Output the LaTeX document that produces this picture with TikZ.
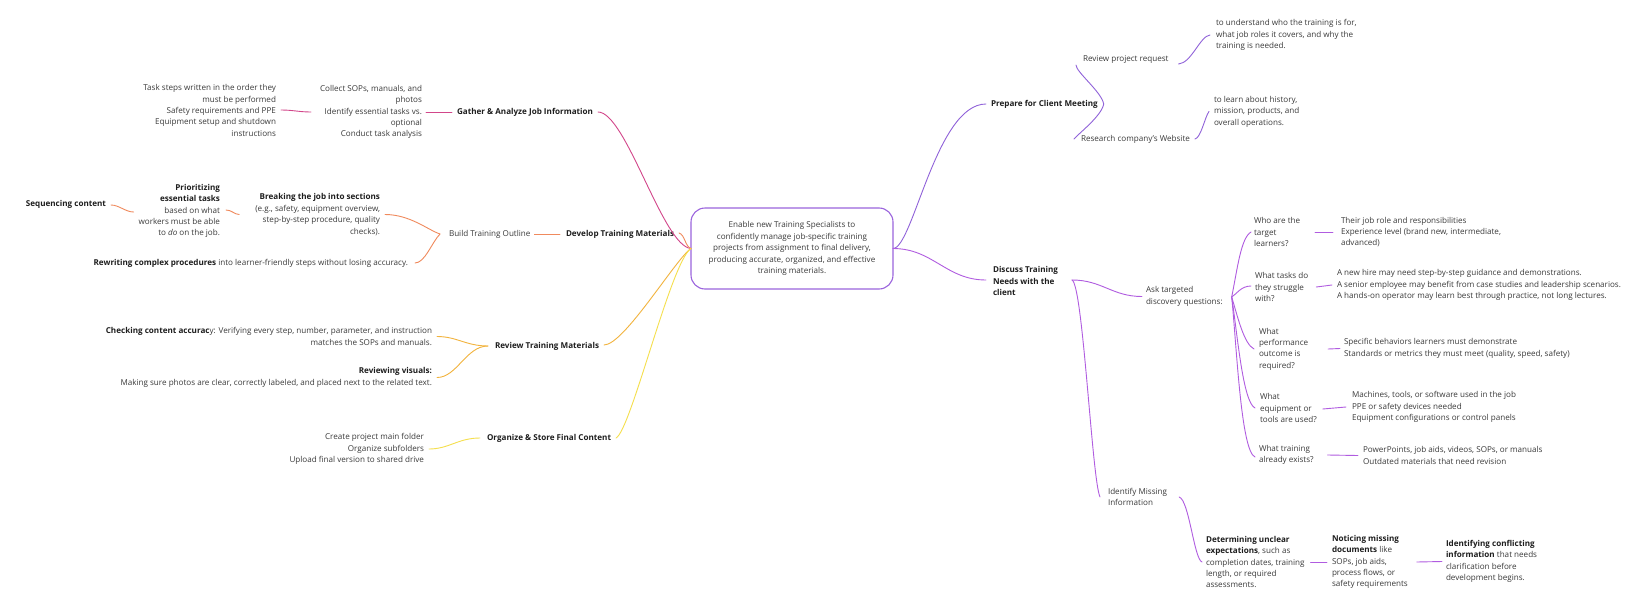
\documentclass[tikz,border=0pt]{standalone}
\usepackage{fontspec}
\setmainfont{Open Sans}
\usetikzlibrary{calc}
\definecolor{txt}{HTML}{3A3A3A}
\definecolor{txtb}{HTML}{1E1E1E}
\definecolor{pinkC}{HTML}{D2468A}
\definecolor{orangeC}{HTML}{F08A5D}
\definecolor{amberC}{HTML}{F2B33D}
\definecolor{yellowC}{HTML}{F5DF4D}
\definecolor{purpA}{HTML}{9062D9}
\definecolor{purpB}{HTML}{B05CE0}
\definecolor{centerC}{HTML}{9B64DD}
\begin{document}
\begin{tikzpicture}[x=1pt,y=-1pt,
  every node/.style={inner sep=0pt, outer sep=0pt, text=txt, font=\fontsize{8.1}{11.4}\selectfont},
  lt/.style={anchor=west, align=left},
  rt/.style={anchor=east, align=right},
  bt/.style={font=\fontsize{8.1}{11.4}\selectfont\bfseries, text=txtb},
  con/.style={line width=0.9pt, line cap=round}]
\useasboundingbox[fill=white] (0,0) rectangle (1642,608);

% ---------- central node
\node[draw=centerC, line width=1.1pt, rounded corners=14pt, minimum width=202pt, minimum height=81pt, align=center] (center) at (792,248.5)
  {Enable new Training Specialists to\\confidently manage job-specific training\\projects from assignment to final delivery,\\producing accurate, organized, and effective\\training materials.};

% ---------- left side nodes
\node[rt] (steps) at (276,110.5) {Task steps written in the order they\\must be performed\\Safety requirements and PPE\\Equipment setup and shutdown\\instructions};
\node[rt] (collect) at (422,112) {Collect SOPs, manuals, and\\photos\\Identify essential tasks vs.\\optional\\Conduct task analysis};
\node[lt,bt] (gather) at (457,112) {Gather \& Analyze Job Information};

\node[rt,bt] (seq) at (106,204) {Sequencing content};
\node[rt] (prior) at (220,211) {\textbf{\color{txtb}Prioritizing}\\\textbf{\color{txtb}essential tasks}\\based on what\\workers must be able\\to \emph{do} on the job.};
\node[rt] (breaking) at (380,214.5) {\textbf{\color{txtb}Breaking the job into sections}\\(e.g., safety, equipment overview,\\step-by-step procedure, quality\\checks).};
\node[lt] (outline) at (449,234) {Build Training Outline};
\node[lt,bt] (develop) at (566,234) {Develop Training Materials};
\node[rt] (rewrite) at (408,263) {\textbf{\color{txtb}Rewriting complex procedures} into learner-friendly steps without losing accuracy.};

\node[rt] (checking) at (432,336.5) {\textbf{\color{txtb}Checking content accurac}y: Verifying every step, number, parameter, and instruction\\matches the SOPs and manuals.};
\node[rt] (visuals) at (432,377.5) {\textbf{\color{txtb}Reviewing visuals:}\\Making sure photos are clear, correctly labeled, and placed next to the related text.};
\node[lt,bt] (review) at (495,346) {Review Training Materials};

\node[rt] (folders) at (424,449) {Create project main folder\\Organize subfolders\\Upload final version to shared drive};
\node[lt,bt] (organize) at (487,438) {Organize \& Store Final Content};

% ---------- right side nodes
\node[lt,bt] (prepare) at (991,104) {Prepare for Client Meeting};
\node[lt] (reviewreq) at (1083,59) {Review project request};
\node[lt] (research) at (1081,139) {Research company's Website};
\node[lt] (understand) at (1216,35) {to understand who the training is for,\\what job roles it covers, and why the\\training is needed.};
\node[lt] (learn) at (1214,111.5) {to learn about history,\\mission, products, and\\overall operations.};

\node[lt,bt] (discuss) at (993,281) {Discuss Training\\Needs with the\\client};
\node[lt] (ask) at (1146,296.5) {Ask targeted\\discovery questions:};
\node[lt] (who) at (1254,232) {Who are the\\target\\learners?};
\node[lt] (tasks) at (1255,287) {What tasks do\\they struggle\\with?};
\node[lt] (perf) at (1259,349) {What\\performance\\outcome is\\required?};
\node[lt] (equip) at (1260,408) {What\\equipment or\\tools are used?};
\node[lt] (exists) at (1259,455) {What training\\already exists?};
\node[lt] (whoA) at (1341,232) {Their job role and responsibilities\\Experience level (brand new, intermediate,\\advanced)};
\node[lt] (tasksA) at (1337,285) {A new hire may need step-by-step guidance and demonstrations.\\A senior employee may benefit from case studies and leadership scenarios.\\A hands-on operator may learn best through practice, not long lectures.};
\node[lt] (perfA) at (1344,348.5) {Specific behaviors learners must demonstrate\\Standards or metrics they must meet (quality, speed, safety)};
\node[lt] (equipA) at (1352,407) {Machines, tools, or software used in the job\\PPE or safety devices needed\\Equipment configurations or control panels};
\node[lt] (existsA) at (1363,455.5) {PowerPoints, job aids, videos, SOPs, or manuals\\Outdated materials that need revision};

\node[lt] (missing) at (1108,497) {Identify Missing\\Information};
\node[lt] (determ) at (1206,562) {\textbf{\color{txtb}Determining unclear}\\\textbf{\color{txtb}expectations}, such as\\completion dates, training\\length, or required\\assessments.};
\node[lt] (notice) at (1332,562) {\textbf{\color{txtb}Noticing missing}\\\textbf{\color{txtb}documents} like\\SOPs, job aids,\\process flows, or\\safety requirements};
\node[lt] (conflict) at (1446,561.5) {\textbf{\color{txtb}Identifying conflicting}\\\textbf{\color{txtb}information} that needs\\clarification before\\development begins.};

% ---------- connectors: Gather (pink)
\begin{scope}[con, draw=pinkC]
\draw ($(gather.east)+(5,0)$) .. controls +(28,0) and +(-28,-2) .. (center.west);
\draw ($(gather.west)+(-5,0)$) -- ($(collect.east)+(4,0)$);
\draw ($(collect.west)+(-9,0)$) .. controls +(-12,0) and +(12,0) .. ($(steps.east)+(5,-0.5)$);
\end{scope}

% ---------- connectors: Develop (orange)
\begin{scope}[con, draw=orangeC]
\draw ($(develop.east)+(5,-1)$) .. controls +(6,2) and +(-6,-2) .. (center.west);
\draw ($(develop.west)+(-6,0)$) -- ($(outline.east)+(4,0)$);
\draw ($(outline.west)+(-9,0)$) .. controls +(-12,-4) and +(25,0) .. ($(breaking.east)+(5,0)$);
\draw ($(outline.west)+(-9,0)$) .. controls +(-8,8) and +(10,0) .. ($(rewrite.east)+(7,0)$);
\draw ($(breaking.west)+(-16,0)$) .. controls +(-5,0) and +(6,0) .. ($(prior.east)+(6,-1)$);
\draw ($(prior.west)+(-5,1)$) .. controls +(-8,0) and +(8,0) .. ($(seq.east)+(5,1)$);
\end{scope}

% ---------- connectors: Review (amber)
\begin{scope}[con, draw=amberC]
\draw ($(review.east)+(5,-1)$) .. controls +(20,0) and +(-15,10) .. (center.west);
\draw ($(review.west)+(-7,0)$) .. controls +(-22,0) and +(20,0) .. ($(checking.east)+(5,0)$);
\draw ($(review.west)+(-7,0)$) .. controls +(-22,0) and +(20,0) .. ($(visuals.east)+(5,0)$);
\end{scope}

% ---------- connectors: Organize (yellow)
\begin{scope}[con, draw=yellowC]
\draw ($(organize.east)+(5,0)$) .. controls +(15,-8) and +(-20,13) .. (center.west);
\draw ($(organize.west)+(-7,0)$) .. controls +(-22,0) and +(20,0) .. ($(folders.east)+(5,0)$);
\end{scope}

% ---------- connectors: Prepare (purple)
\begin{scope}[con, draw=purpA]
\draw (center.east) .. controls +(20,0) and +(-50,0) .. ($(prepare.west)+(-5,0)$);
\draw ($(prepare.east)+(6,0)$) .. controls +(-2,-12) and +(0,7) .. ($(reviewreq.west)+(-7,6)$);
\draw ($(prepare.east)+(6,0)$) .. controls +(-2,12) and +(4,-5) .. ($(research.west)+(-7,0)$);
\draw ($(reviewreq.east)+(10,5)$) .. controls +(13,-1) and +(-10,1) .. ($(understand.west)+(-6,0)$);
\draw ($(research.east)+(5,0)$) .. controls +(6,-1) and +(-4,5) .. ($(learn.west)+(-5,0)$);
\end{scope}

% ---------- connectors: Discuss (violet)
\begin{scope}[con, draw=purpB]
\draw (center.east) .. controls +(40,0) and +(-40,0) .. ($(discuss.west)+(-7,-1)$);
\draw ($(discuss.east)+(14,-1)$) .. controls +(30,0) and +(-30,0) .. ($(ask.west)+(-4,0)$);
\draw ($(discuss.east)+(14,-1)$) .. controls +(11,5) and +(-8,-17) .. ($(missing.west)+(-8,0)$);
\coordinate (hub) at ($(ask.east)+(9,0.5)$);
\draw (hub) .. controls +(6,-30) and +(-10,6) .. ($(who.west)+(-3,0)$);
\draw (hub) .. controls +(5,-3) and +(-10,0) .. ($(tasks.west)+(-4,-1)$);
\draw (hub) .. controls +(6,20) and +(-10,-5) .. ($(perf.west)+(-5,0)$);
\draw (hub) .. controls +(6,40) and +(-12,-6) .. ($(equip.west)+(-5,0)$);
\draw (hub) .. controls +(5,50) and +(-14,-6) .. ($(exists.west)+(-4,2)$);
\draw ($(who.east)+(15,0)$) -- ($(whoA.west)+(-8,0)$);
\draw ($(tasks.east)+(8,0)$) -- ($(tasksA.west)+(-5,0)$);
\draw ($(perf.east)+(20,0)$) -- ($(perfA.west)+(-4,0)$);
\draw ($(equip.east)+(6,1)$) -- ($(equipA.west)+(-6,0)$);
\draw ($(exists.east)+(14,0)$) -- ($(existsA.west)+(-5,0)$);
\draw ($(missing.east)+(12,0)$) .. controls +(10,3) and +(-8,-3) .. ($(determ.west)+(-4,0)$);
\draw ($(determ.east)+(6,0)$) -- ($(notice.west)+(-5,0)$);
\draw ($(notice.east)+(9,0)$) -- ($(conflict.west)+(-4,0)$);
\end{scope}
\end{tikzpicture}
\end{document}
